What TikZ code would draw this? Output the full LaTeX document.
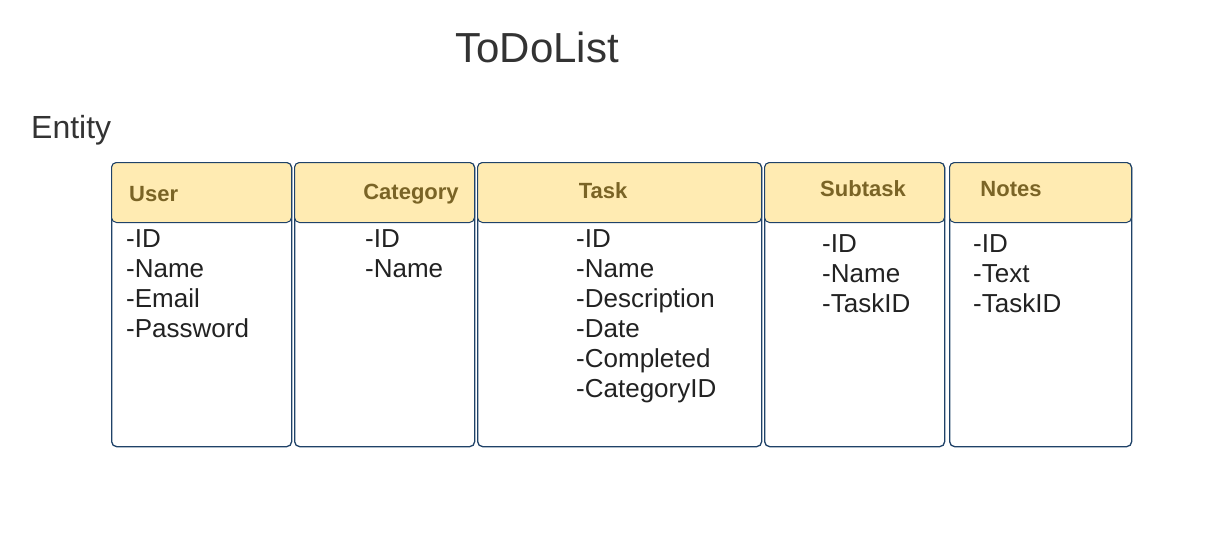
\documentclass[tikz,border=0pt]{standalone}
\usepackage{fontspec}
\setmainfont{Liberation Sans}
\usepackage{xcolor}
\usetikzlibrary{positioning}

\definecolor{headfill}{HTML}{FFEBB2}
\definecolor{headtext}{HTML}{7A6426}
\definecolor{boxline}{HTML}{1F4268}
\definecolor{bodytext}{HTML}{222222}

\begin{document}
\begin{tikzpicture}[
    x=1pt, y=-1pt,
    entity/.style={rectangle, draw=boxline, line width=1.3pt, rounded corners=5pt, fill=white, inner sep=0pt, minimum height=284pt, anchor=north west},
    head/.style={rectangle, draw=boxline, line width=1pt, rounded corners=5pt, fill=headfill, inner sep=0pt, minimum height=60pt, anchor=north west},
    headlabel/.style={font=\fontsize{22}{26}\selectfont\bfseries, text=headtext, inner sep=0pt},
    attrs/.style={align=left, anchor=north west, inner sep=0pt, text=bodytext, font=\fontsize{26}{30}\selectfont}
]
    \useasboundingbox[fill=white] (0,0) rectangle (1209,536);

    % title
    \node[font=\fontsize{42}{48}\selectfont, text=black!80, inner sep=0pt] (title) at (537,47) {ToDoList};
    \node[font=\fontsize{32}{36}\selectfont, text=black!80, inner sep=0pt, anchor=west] (entitylabel) at (31,130) {Entity};

    % entity boxes
    \node[entity, minimum width=180pt] (user) at (111,162) {};
    \node[entity, minimum width=180pt] (category) at (294,162) {};
    \node[entity, minimum width=284pt] (task) at (477,162) {};
    \node[entity, minimum width=180pt] (subtask) at (764,162) {};
    \node[entity, minimum width=182pt] (notes) at (949,162) {};

    % header bars
    \node[head, minimum width=180pt] (userhead) at (user.north west) {};
    \node[head, minimum width=180pt] (categoryhead) at (category.north west) {};
    \node[head, minimum width=284pt] (taskhead) at (task.north west) {};
    \node[head, minimum width=180pt] (subtaskhead) at (subtask.north west) {};
    \node[head, minimum width=182pt] (noteshead) at (notes.north west) {};

    \node[headlabel, anchor=west] (usertitle) at (129,194) {User};
    \node[headlabel] (categorytitle) at (411,194) {Category};
    \node[headlabel] (tasktitle) at (603,191) {Task};
    \node[headlabel] (subtasktitle) at (863,189) {Subtask};
    \node[headlabel] (notestitle) at (1011,189) {Notes};

    % attributes
    \node[attrs] (userattrs) at (126,229) {-ID\\-Name\\-Email\\-Password};
    \node[attrs] (categoryattrs) at (365,229) {-ID\\-Name};
    \node[attrs] (taskattrs) at (576,229) {-ID\\-Name\\-Description\\-Date\\-Completed\\-CategoryID};
    \node[attrs] (subtaskattrs) at (822,234) {-ID\\-Name\\-TaskID};
    \node[attrs] (notesattrs) at (973,234) {-ID\\-Text\\-TaskID};
\end{tikzpicture}
\end{document}
